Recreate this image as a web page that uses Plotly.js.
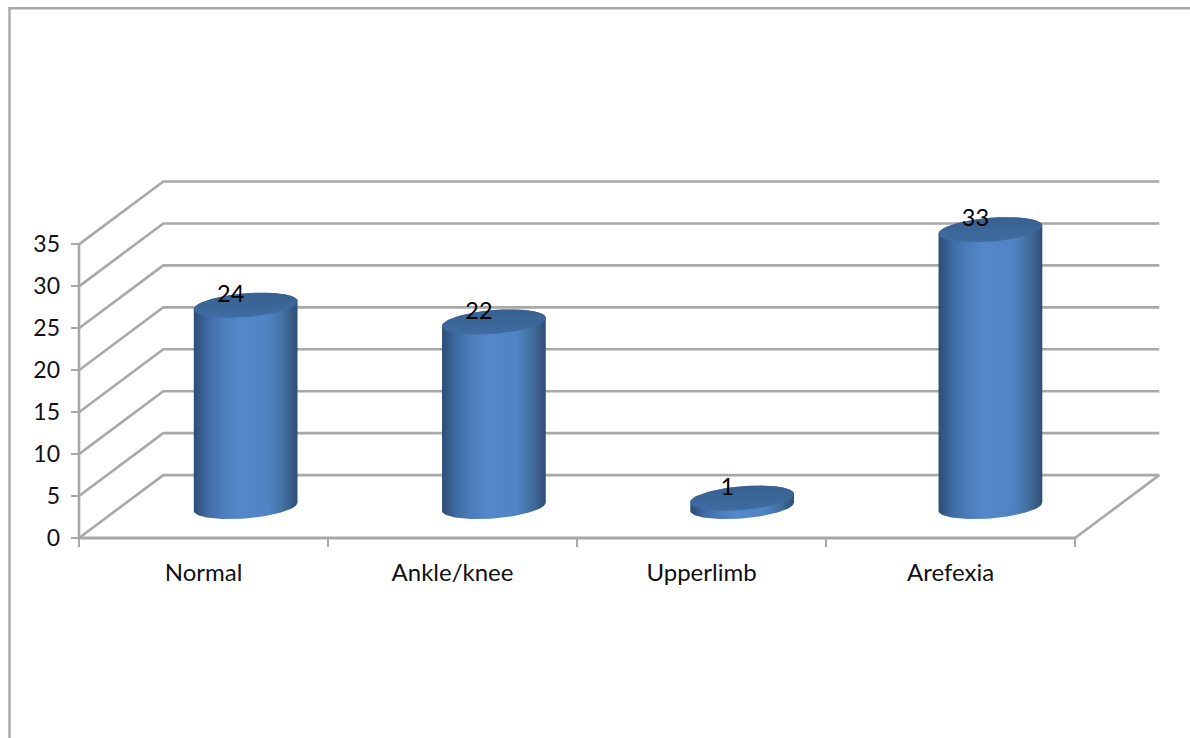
<!DOCTYPE html>
<html>
<head>
<meta charset="utf-8">
<script src="https://cdn.plot.ly/plotly-3.0.1.min.js"></script>
<style>html,body{margin:0;padding:0;background:#fff;overflow:hidden}#chart{width:1190px;height:738px}</style>
</head>
<body>
<div id="chart"></div>
<script>
// Reflex findings per category
const categories = ["Normal", "Ankle/knee", "Upperlimb", "Arefexia"];
const counts = [24, 22, 1, 33];
const yTicks = [0, 5, 10, 15, 20, 25, 30, 35];

// Oblique projection: one unit of depth shifts a point along both axes
const DEPTH_X = 0.3385;   // categories per unit depth
const DEPTH_Y = 7.5;      // value units per unit depth
const project = (cat, val, depth) => [cat + depth * DEPTH_X, val + depth * DEPTH_Y];

const GRID = "#a8a8a8";
const FONT = "Lato, sans-serif";
const traces = [];

function polyline(points, color, width) {
  traces.push({
    x: points.map(p => p[0]), y: points.map(p => p[1]),
    mode: "lines", line: {color, width, simplify: false},
    hoverinfo: "skip", showlegend: false
  });
}

// Side wall and back wall gridlines
yTicks.forEach(v => {
  polyline([project(0, v, 0), project(0, v, 1), project(4, v, 1)], GRID, 2.6);
});
// Floor edge on the right, front axis lines
polyline([project(4, 0, 0), project(4, 0, 1)], GRID, 2.6);
polyline([project(0, 0, 0), project(4, 0, 0)], GRID, 3);
polyline([project(0, 0, 0), project(0, 35, 0)], GRID, 2.6);

// Cylinder cross-section on the floor plane
const RADIUS_CAT = 0.197;
const RADIUS_DEPTH = 0.2;
const BAR_SPACING = 0.997;
const angles = [];
for (let i = 0; i <= 72; i++) angles.push(i * Math.PI / 36);

function ellipsePoint(c, v, t) {
  return project(c + RADIUS_CAT * Math.cos(t), v, 0.5 + RADIUS_DEPTH * Math.sin(t));
}
// Angle at which the projected ellipse reaches its right-hand extreme
const SIDE_ANGLE = Math.atan2(RADIUS_DEPTH * DEPTH_X, RADIUS_CAT);

const bodyScale = [
  [0, "#2c4e76"], [0.05, "#345788"], [0.14, "#3f6ca4"], [0.28, "#4c7dbc"], [0.45, "#5488ca"],
  [0.72, "#5083c4"], [0.86, "#42709f"], [0.95, "#375a85"], [1, "#2e4e74"]
];
const lidScale = [[0, "#3f6ca2"], [0.5, "#3b6698"], [1, "#38618f"]];

counts.forEach((val, i) => {
  const c = 0.5 + i * BAR_SPACING;
  // Body: right silhouette down, around the front of the base, left silhouette up
  const body = [];
  for (let k = 0; k <= 48; k++) {
    const t = SIDE_ANGLE - k * (Math.PI / 48);
    body.push(ellipsePoint(c, 0, t));
  }
  const topSide = [];
  for (let k = 0; k <= 48; k++) {
    const t = SIDE_ANGLE - Math.PI - k * (Math.PI / 48);
    topSide.push(ellipsePoint(c, val, t));
  }
  const outline = body.concat(topSide);
  outline.push(outline[0]);
  traces.push({
    x: outline.map(p => p[0]), y: outline.map(p => p[1]),
    mode: "lines", fill: "toself", line: {width: 0, color: "rgba(0,0,0,0)"},
    fillgradient: {type: "horizontal", colorscale: bodyScale},
    hoverinfo: "skip", showlegend: false
  });
  // Top face
  const lid = angles.map(t => ellipsePoint(c, val, t));
  traces.push({
    x: lid.map(p => p[0]), y: lid.map(p => p[1]),
    mode: "lines", fill: "toself", line: {width: 0, color: "rgba(0,0,0,0)"},
    fillgradient: {type: "vertical", colorscale: lidScale},
    hoverinfo: "skip", showlegend: false
  });
});

// Value labels sit just up and left of each cylinder's top centre
const labelPos = counts.map((val, i) => project(0.5 + i * BAR_SPACING - 0.06, val + 1.1, 0.5));
traces.push({
  x: labelPos.map(p => p[0]), y: labelPos.map(p => p[1]),
  text: counts.map(String), mode: "text", textposition: "middle center",
  textfont: {family: FONT, size: 23.5, color: "#000"},
  hoverinfo: "skip", showlegend: false, cliponaxis: false
});

const layout = {
  width: 1190, height: 738,
  paper_bgcolor: "#fff", plot_bgcolor: "#fff",
  margin: {l: 71, r: 26, t: 177, b: 190.5, pad: 0},
  showlegend: false,
  // Plot area is padded past the front axes so the heavy lines are not clipped;
  // ticks point inward from the padded edge and finish at the front axes.
  xaxis: {
    range: [-0.03213, 4.3574], showgrid: false, zeroline: false, showline: false,
    tickmode: "array", tickvals: categories.map((_, i) => i + 0.5), ticktext: categories,
    ticks: "", ticklabelstandoff: 9,
    tickfont: {family: FONT, size: 24, color: "#111"},
    minor: {tickmode: "array", tickvals: [0, 1, 2, 3, 4], ticks: "inside", ticklen: 9, tickwidth: 2, tickcolor: GRID, showgrid: false},
    fixedrange: true
  },
  yaxis: {
    range: [-1.0714, 43.036], showgrid: false, zeroline: false, showline: false,
    tickmode: "array", tickvals: yTicks, ticktext: yTicks.map(String),
    ticks: "inside", ticklen: 8, tickwidth: 2, tickcolor: GRID,
    ticklabelstandoff: 10,
    tickfont: {family: FONT, size: 23, color: "#111"},
    fixedrange: true
  },
  shapes: [{
    // Chart-area frame, running off the top right and bottom of the page
    type: "path", xref: "paper", yref: "paper",
    path: "M -0.05627 -0.5196 L -0.05627 1.4561 L 1.0293 1.4561",
    line: {color: "#a8a8a8", width: 2.4}
  }]
};

Plotly.newPlot("chart", traces, layout, {staticPlot: true});
</script>
</body>
</html>
